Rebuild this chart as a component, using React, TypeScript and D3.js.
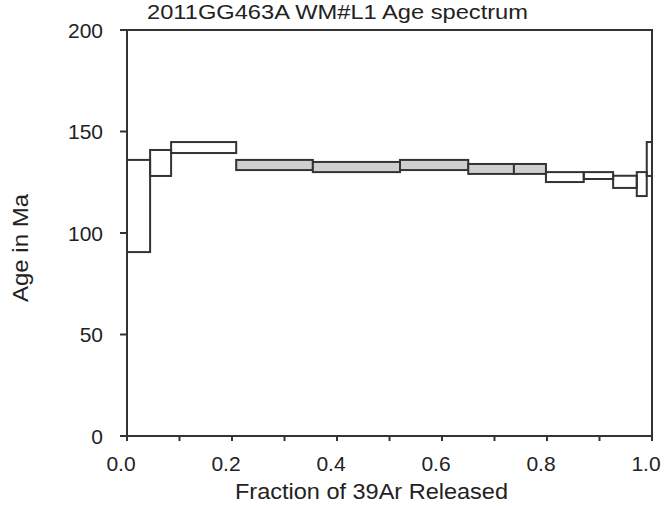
import React from "react";
import * as d3 from "d3";

// Cumulative fraction of 39Ar released at the boundaries of each heating step
const stepEdges = [0, 0.044, 0.084, 0.208, 0.354, 0.52, 0.65, 0.737, 0.798, 0.87, 0.926, 0.971, 0.99, 1.0];
// Upper and lower age (Ma) of each step's error box
const ageTop = [136.0, 140.9, 144.8, 136.0, 135.0, 136.0, 134.0, 134.0, 130.0, 130.0, 128.2, 130.0, 144.8];
const ageBottom = [90.6, 128.1, 139.4, 131.0, 130.0, 131.0, 129.1, 129.1, 125.1, 126.6, 122.2, 118.2, 128.1];
// Steps included in the plateau (drawn shaded)
const plateau = [false, false, false, true, true, true, true, true, false, false, false, false, false];

const xMajorTicks = [0, 0.2, 0.4, 0.6, 0.8, 1.0];
const xMinorTicks = [0, 0.1, 0.2, 0.3, 0.4, 0.5, 0.6, 0.7, 0.8, 0.9, 1.0];
const yTicks = [0, 50, 100, 150, 200];

const title = "2011GG463A WM#L1 Age spectrum";
const xTitle = "Fraction of 39Ar Released";
const yTitle = "Age in Ma";

const W = 664;
const H = 506;
const left = 127;
const right = 652;
const top = 30;
const bottom = 436;

const LINE = "#333333";
const TEXT = "#222222";
const FONT = "'Liberation Sans', Arial, Helvetica, sans-serif";

export default function App() {
  const x = d3.scaleLinear().domain([0, 1]).range([left, right]);
  const y = d3.scaleLinear().domain([0, 200]).range([bottom, top]);

  const steps = ageTop.map((t, i) => ({
    x0: stepEdges[i],
    x1: stepEdges[i + 1],
    top: t,
    bot: ageBottom[i],
    fill: plateau[i],
  }));

  return (
    <svg
      width={W}
      height={H}
      style={{ position: "absolute", left: 0, top: 0, background: "#fff" }}
      fontFamily={FONT}
    >
      <rect x={0} y={0} width={W} height={H} fill="#fff" />
      {/* steps */}
      {steps.map((s, i) => (
        <rect
          key={i}
          x={x(s.x0)}
          y={y(s.top)}
          width={x(s.x1) - x(s.x0)}
          height={y(s.bot) - y(s.top)}
          fill={s.fill ? "#cfcfcf" : "none"}
          stroke={LINE}
          strokeWidth={2}
        />
      ))}
      {/* frame */}
      <rect
        x={left}
        y={top}
        width={right - left}
        height={bottom - top}
        fill="none"
        stroke={LINE}
        strokeWidth={2}
      />
      {/* y ticks */}
      {yTicks.map((t) => (
        <g key={t}>
          <line x1={left - 7} x2={left} y1={y(t)} y2={y(t)} stroke={LINE} strokeWidth={2} />
          <text x={103} y={y(t) + 7.5} textAnchor="end" fontSize={21} fill={TEXT}>
            {t}
          </text>
        </g>
      ))}
      {/* x ticks */}
      {xMinorTicks.map((t) => (
        <line key={t} x1={x(t)} x2={x(t)} y1={bottom} y2={bottom + 5} stroke={LINE} strokeWidth={2} />
      ))}
      {xMajorTicks.map((t) => (
        <text key={t} x={x(t) - 6} y={471} textAnchor="middle" fontSize={21} fill={TEXT}>
          {t.toFixed(1)}
        </text>
      ))}
      {/* titles */}
      <text x={147} y={19} fontSize={21} fill={TEXT} textLength={381} lengthAdjust="spacingAndGlyphs">
        {title}
      </text>
      <text x={235} y={499} fontSize={22} fill={TEXT} textLength={273} lengthAdjust="spacingAndGlyphs">
        {xTitle}
      </text>
      <text
        transform={`translate(28, 248) rotate(-90)`}
        textAnchor="middle"
        fontSize={22}
        fill={TEXT}
        textLength={108}
        lengthAdjust="spacingAndGlyphs"
      >
        {yTitle}
      </text>
    </svg>
  );
}
